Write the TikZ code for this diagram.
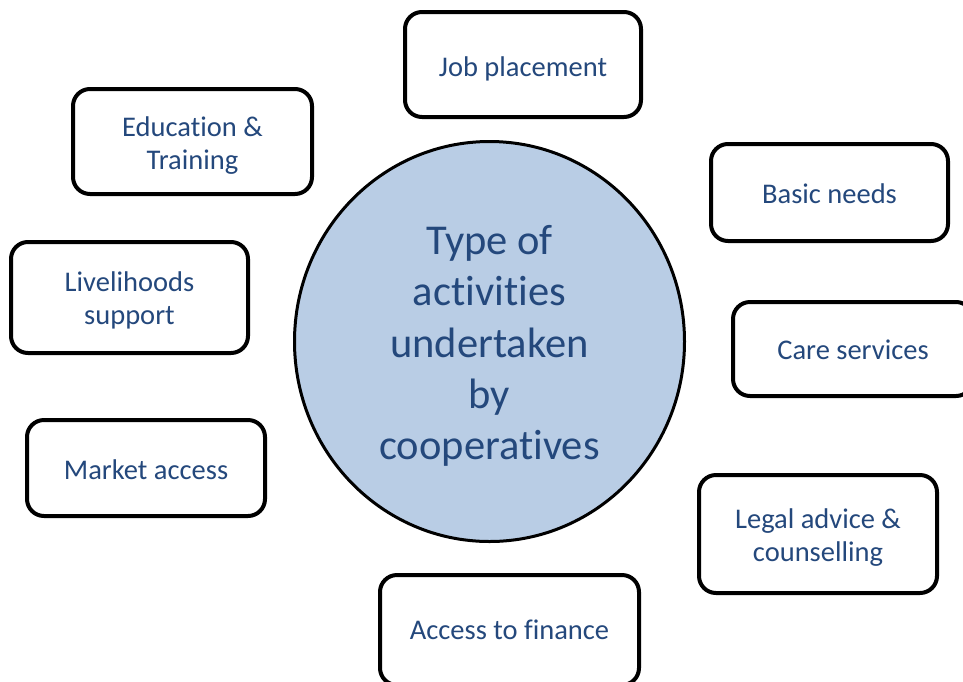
\documentclass[tikz,border=0pt]{standalone}
\usepackage{fontspec}
\setmainfont[Ligatures={NoCommon}]{Carlito}
\usetikzlibrary{shapes.geometric}
\definecolor{txtblue}{RGB}{36,72,124}
\definecolor{circfill}{HTML}{B9CDE5}
\tikzset{
  actbox/.style={draw=black, line width=4pt, rounded corners=17pt, fill=white,
    inner sep=0pt},
  boxtext/.style={align=center, text=txtblue, font=\fontsize{28.5}{33}\selectfont,
    inner sep=0pt},
  hub/.style={ellipse, draw=black, line width=3pt, fill=circfill,
    inner sep=0pt, minimum width=390pt, minimum height=400pt},
  hubtext/.style={align=center, text=txtblue, font=\fontsize{42.5}{51.2}\selectfont,
    inner sep=0pt}
}
\begin{document}
\begin{tikzpicture}[x=1pt,y=-1pt]
\useasboundingbox (0,0) rectangle (963,681);
\begin{scope}
\clip (0,0) rectangle (963,681);
\node[hub, label={[hubtext, yshift=-4.5pt]center:{Type of\\activities\\undertaken\\by\\cooperatives}}] (hub) at (489.5,341.5) {};
\node[actbox, minimum width=236pt, minimum height=105pt,
  label={[boxtext, yshift=-4pt]center:{Job placement}}] (job) at (523,64.5) {};
\node[actbox, minimum width=239pt, minimum height=105pt,
  label={[boxtext, yshift=-4pt]center:{Education \&\\Training}}] (edu) at (192.5,141.5) {};
\node[actbox, minimum width=237pt, minimum height=97pt,
  label={[boxtext, yshift=-1pt]center:{Basic needs}}] (basic) at (829.5,192.5) {};
\node[actbox, minimum width=237pt, minimum height=111pt,
  label={[boxtext, yshift=-3pt]center:{Livelihoods\\support}}] (live) at (129.5,297.5) {};
\node[actbox, minimum width=240pt, minimum height=94pt,
  label={[boxtext, yshift=-1pt]center:{Care services}}] (care) at (853,349) {};
\node[actbox, minimum width=238pt, minimum height=96pt,
  label={[boxtext, yshift=-2pt]center:{Market access}}] (market) at (146,468) {};
\node[actbox, minimum width=238pt, minimum height=118pt,
  label={[boxtext, yshift=-4pt]center:{Legal advice \&\\counselling}}] (legal) at (818,534) {};
\node[actbox, minimum width=259pt, minimum height=110pt,
  label={[boxtext]center:{Access to finance}}] (finance) at (509.5,630) {};
\end{scope}
\end{tikzpicture}
\end{document}
